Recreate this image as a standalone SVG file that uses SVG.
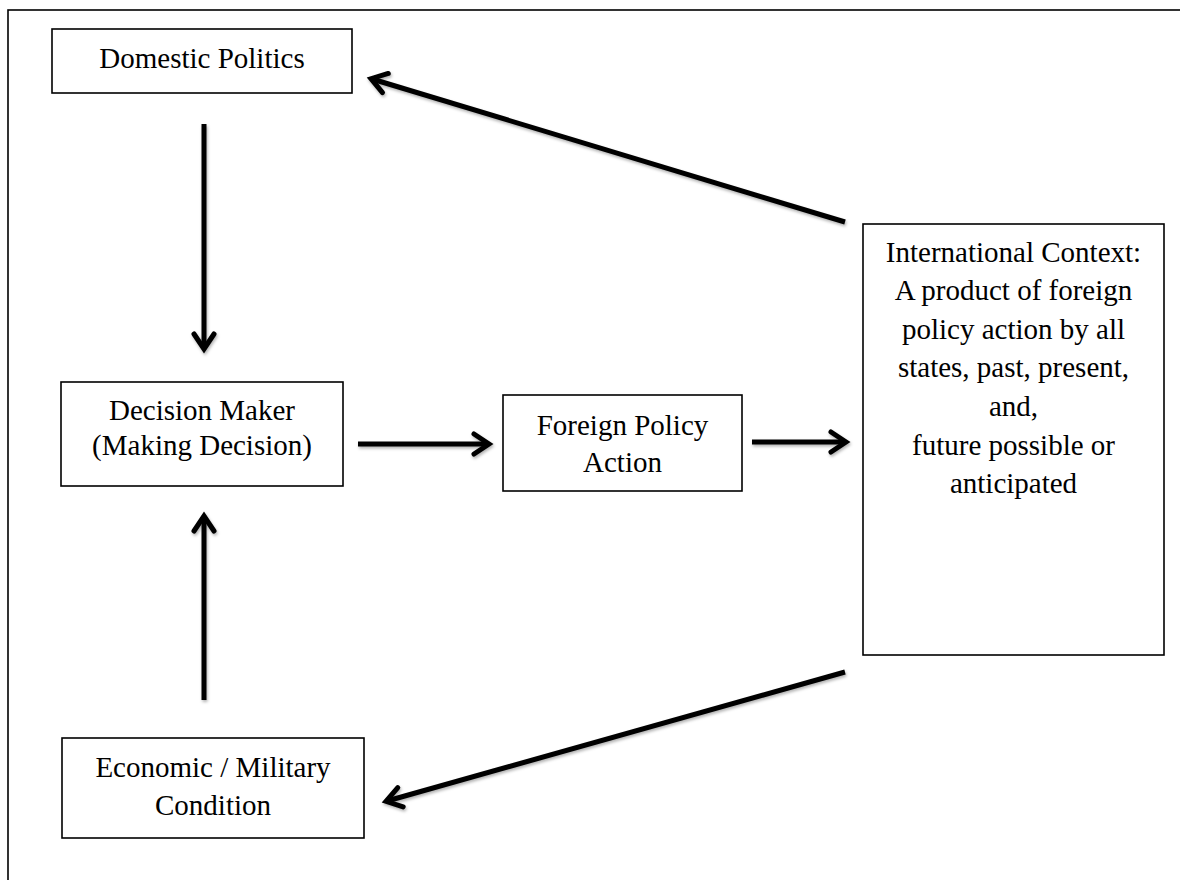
<svg xmlns="http://www.w3.org/2000/svg" width="1180" height="880" viewBox="0 0 1180 880">
  <style>
    .box { fill: #fff; stroke: #000; stroke-width: 1.6; }
    .lbl { font-family: "Liberation Serif", "Times New Roman", serif; font-size: 29px; fill: #000; text-anchor: middle; }
    .conn { stroke: #000; stroke-width: 5; fill: none; marker-end: url(#head); }
  </style>
  <defs>
    <filter id="sh" x="-20%" y="-20%" width="140%" height="140%">
      <feDropShadow dx="1" dy="2" stdDeviation="1.5" flood-color="#000" flood-opacity="0.3"/>
    </filter>
    <marker id="head" markerUnits="userSpaceOnUse" markerWidth="40" markerHeight="40" viewBox="-20 -20 40 40" refX="0" refY="0" orient="auto">
      <path d="M-14,-10 L1,0 L-14,10" fill="none" stroke="#000" stroke-width="5" stroke-linecap="round" stroke-linejoin="miter"/>
    </marker>
  </defs>
  <rect width="1180" height="880" fill="#fff"/>
  <rect x="8" y="10" width="1200" height="900" fill="none" stroke="#000" stroke-width="1.6"/>

  <g id="connectors" filter="url(#sh)">
    <line class="conn" x1="204" y1="124" x2="204" y2="348"/>
    <line class="conn" x1="204" y1="700" x2="204" y2="517"/>
    <line class="conn" x1="358" y1="444" x2="488" y2="444"/>
    <line class="conn" x1="752" y1="442" x2="845" y2="442"/>
    <line class="conn" x1="845" y1="222" x2="372" y2="79"/>
    <line class="conn" x1="845" y1="672" x2="387" y2="801"/>
  </g>

  <g id="domestic-politics">
    <rect class="box" x="52" y="29" width="300" height="64"/>
    <text class="lbl" x="202" y="68">Domestic Politics</text>
  </g>

  <g id="decision-maker">
    <rect class="box" x="61" y="382" width="282" height="104"/>
    <text class="lbl" x="202" y="420">Decision Maker</text>
    <text class="lbl" x="202" y="455">(Making Decision)</text>
  </g>

  <g id="foreign-policy-action">
    <rect class="box" x="503" y="395" width="239" height="96"/>
    <text class="lbl" x="622.5" y="435">Foreign Policy</text>
    <text class="lbl" x="622.5" y="472">Action</text>
  </g>

  <g id="international-context">
    <rect class="box" x="863" y="224" width="301" height="431"/>
    <text class="lbl" x="1013.5" y="262">International Context:</text>
    <text class="lbl" x="1013.5" y="300">A product of foreign</text>
    <text class="lbl" x="1013.5" y="339">policy action by all</text>
    <text class="lbl" x="1013.5" y="377">states, past, present,</text>
    <text class="lbl" x="1013.5" y="416">and,</text>
    <text class="lbl" x="1013.5" y="455">future possible or</text>
    <text class="lbl" x="1013.5" y="493">anticipated</text>
  </g>

  <g id="economic-military">
    <rect class="box" x="62" y="738" width="302" height="100"/>
    <text class="lbl" x="213" y="777">Economic / Military</text>
    <text class="lbl" x="213" y="815">Condition</text>
  </g>
</svg>
